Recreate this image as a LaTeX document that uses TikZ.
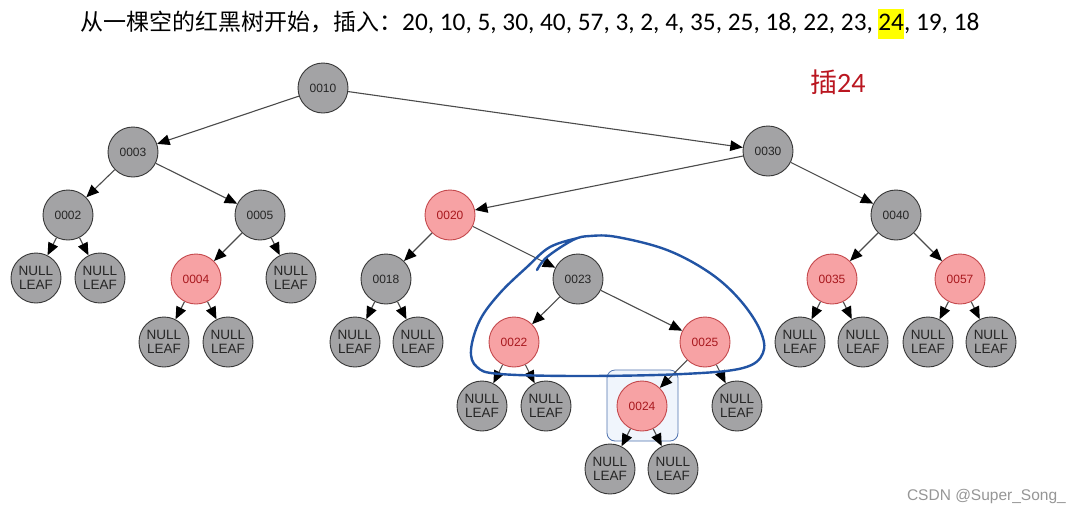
\documentclass[tikz,border=0pt]{standalone}
\usepackage{fontspec}
\setmainfont{Liberation Sans}
\newfontfamily\cjkfont{Noto Sans CJK SC}
\newfontfamily\calfont{Carlito}
\usetikzlibrary{arrows.meta}
\definecolor{gfill}{RGB}{163,163,165}
\definecolor{gdraw}{RGB}{55,55,55}
\definecolor{rfill}{RGB}{247,162,164}
\definecolor{rdraw}{RGB}{196,72,76}
\definecolor{rtext}{RGB}{168,24,30}
\definecolor{edgec}{RGB}{75,75,75}
\definecolor{penblue}{RGB}{34,84,164}
\definecolor{boxfill}{RGB}{240,245,252}
\definecolor{boxdraw}{RGB}{80,115,175}
\definecolor{titlered}{RGB}{186,22,32}
\definecolor{hl}{RGB}{255,255,0}
\definecolor{wm}{RGB}{150,150,150}
\tikzset{
  bnode/.style={circle,draw=gdraw,fill=gfill,line width=0.9pt,minimum size=50pt,inner sep=0pt,
    font=\fontsize{12}{13}\selectfont,text=black!85},
  rnode/.style={circle,draw=rdraw,fill=rfill,line width=0.9pt,minimum size=50pt,inner sep=0pt,
    font=\fontsize{12}{13}\selectfont,text=rtext},
  leafnode/.style={bnode,align=center,font=\fontsize{13.5}{14.5}\selectfont},
  edge/.style={draw=edgec,line width=1.1pt,-{Triangle[length=12.5pt,width=10.5pt,fill=black,color=black]}}
}
\begin{document}
\begin{tikzpicture}[x=1pt,y=-1pt]
\useasboundingbox (0,0) rectangle (1080,512);
\fill[white] (0,0) rectangle (1080,512);
% title
\node[anchor=base west,inner sep=0pt] (title) at (80,30) {\cjkfont\fontsize{23}{30}\selectfont 从一棵空的红黑树开始，插入：\calfont\fontsize{25.3}{30}\selectfont 20, 10, 5, 30, 40, 57, 3, 2, 4, 35, 25, 18, 22, 23, {\setlength\fboxsep{0pt}\colorbox{hl}{\strut 24}}, 19, 18};
\node[anchor=base west,inner sep=0pt,text=titlered] (ins) at (810,92) {\cjkfont\fontsize{27}{30}\selectfont 插\calfont\fontsize{28}{30}\selectfont 24};
\node[anchor=base east,inner sep=0pt,text=wm,font=\fontsize{15.5}{16}\selectfont] (wmk) at (1066,500) {CSDN @Super\_Song\_};
% highlight box around 0024
\node[draw=boxdraw,fill=boxfill,rounded corners=8pt,line width=0.8pt,minimum width=71pt,minimum height=71pt,inner sep=0pt] (hbox) at (642.5,405.5) {};
% nodes
\node[bnode] (n10) at (323,88) {0010};
\node[bnode] (n3) at (133,152) {0003};
\node[bnode] (n30) at (768,151) {0030};
\node[bnode] (n2) at (68,215) {0002};
\node[bnode] (n5) at (260,215) {0005};
\node[rnode] (n20) at (450,215) {0020};
\node[bnode] (n40) at (896,215) {0040};
\node[leafnode] (l1) at (36,278) {NULL\\LEAF};
\node[leafnode] (l2) at (100,278) {NULL\\LEAF};
\node[rnode] (n4) at (196,279) {0004};
\node[leafnode] (l3) at (291,278) {NULL\\LEAF};
\node[bnode] (n18) at (386,279) {0018};
\node[bnode] (n23) at (578,279) {0023};
\node[rnode] (n35) at (832,279) {0035};
\node[rnode] (n57) at (960,279) {0057};
\node[leafnode] (l4) at (164,342) {NULL\\LEAF};
\node[leafnode] (l5) at (228,342) {NULL\\LEAF};
\node[leafnode] (l6) at (355,342) {NULL\\LEAF};
\node[leafnode] (l7) at (418,342) {NULL\\LEAF};
\node[rnode] (n22) at (514,342) {0022};
\node[rnode] (n25) at (705,342) {0025};
\node[leafnode] (l8) at (800,342) {NULL\\LEAF};
\node[leafnode] (l9) at (863,342) {NULL\\LEAF};
\node[leafnode] (l10) at (928,342) {NULL\\LEAF};
\node[leafnode] (l11) at (991,342) {NULL\\LEAF};
\node[leafnode] (l12) at (482,406) {NULL\\LEAF};
\node[leafnode] (l13) at (546,406) {NULL\\LEAF};
\node[rnode] (n24) at (642,406) {0024};
\node[leafnode] (l14) at (737,406) {NULL\\LEAF};
\node[leafnode] (l15) at (610,469) {NULL\\LEAF};
\node[leafnode] (l16) at (673,469) {NULL\\LEAF};
% edges
\foreach \p/\c in {n10/n3,n10/n30,n3/n2,n3/n5,n30/n20,n30/n40,n2/l1,n2/l2,n5/n4,n5/l3,
  n20/n18,n20/n23,n40/n35,n40/n57,n4/l4,n4/l5,n18/l6,n18/l7,n23/n22,n23/n25,
  n35/l8,n35/l9,n57/l10,n57/l11,n22/l12,n22/l13,n25/n24,n25/l14,n24/l15,n24/l16}
  \draw[edge] (\p) -- (\c);
% hand-drawn blue loop
\draw[penblue,line width=2.4pt,line cap=round,line join=round] plot[smooth,tension=0.6] coordinates {
 (578,238) (550,247) (527,267) (500,293) (480,320) (471,350) (477,367) (500,374)
 (583,376) (683,374) (743,368) (763,353) (760,330) (740,300) (710,273) (667,250)
 (617,237) (590,236) (573,240) (547,257) (537,270)};
\end{tikzpicture}
\end{document}
